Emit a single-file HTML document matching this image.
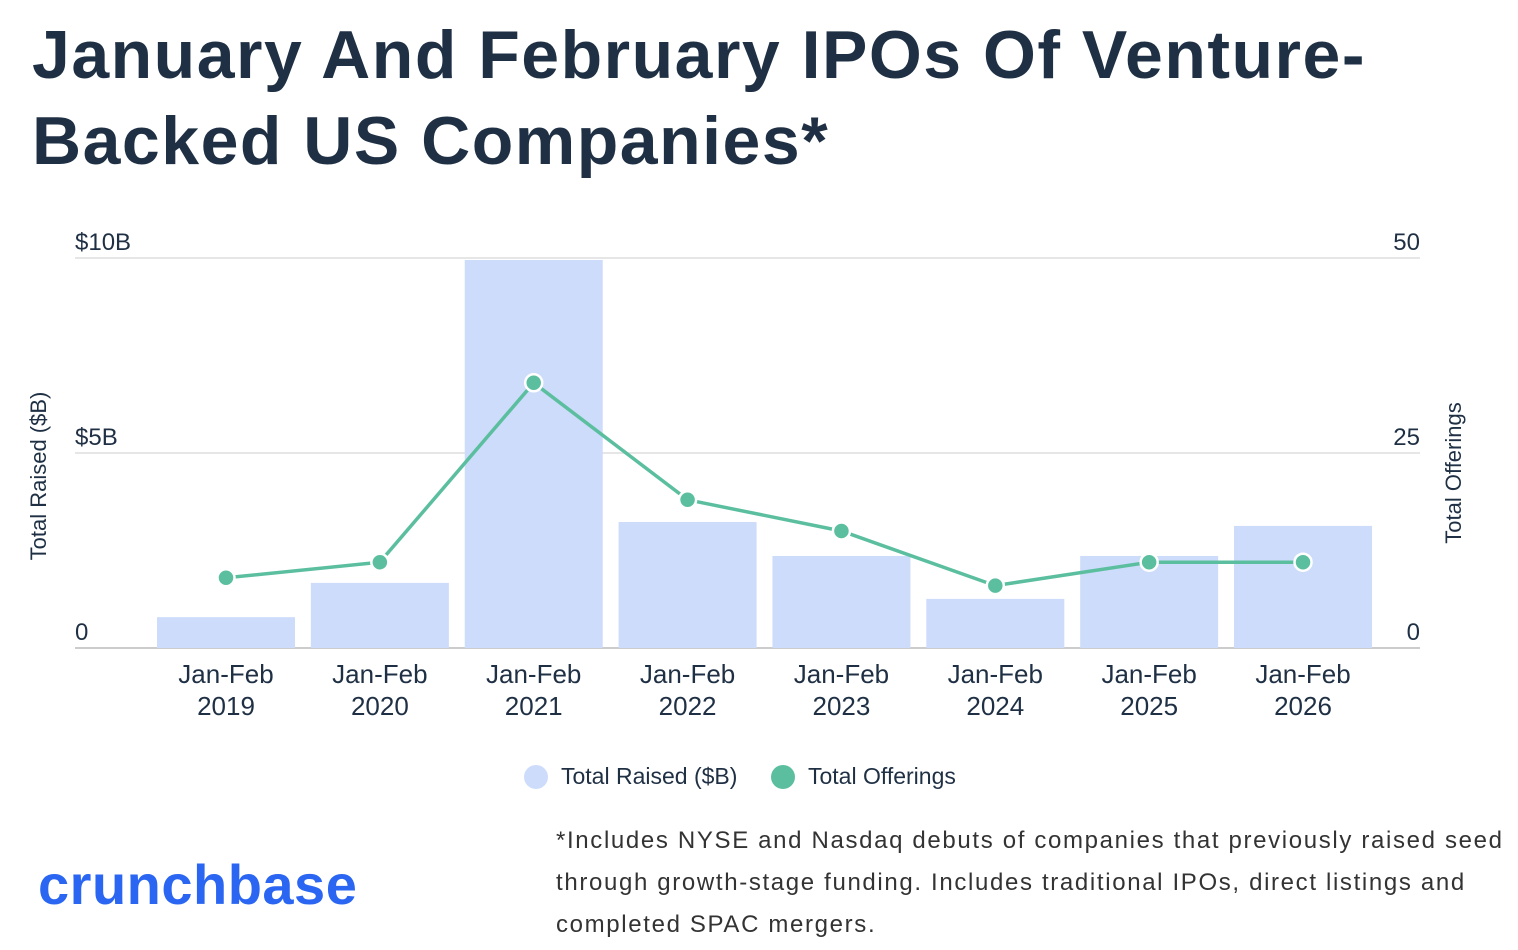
<!DOCTYPE html>
<html><head><meta charset="utf-8"><style>
body{margin:0;background:#fff;width:1518px;height:950px;overflow:hidden;font-family:"Liberation Sans",sans-serif;color:#1f3044}
h1{position:absolute;left:32px;top:12px;margin:0;font-size:68px;line-height:86px;font-weight:bold;letter-spacing:1.5px;color:#1f3044;white-space:nowrap}
.foot{position:absolute;left:556px;top:820px;font-size:24px;line-height:42px;color:#333;width:962px;letter-spacing:1.65px}
.logo{position:absolute;left:38px;top:852px;font-size:56px;font-weight:bold;color:#2a66f2;letter-spacing:0.5px}
</style></head><body>
<h1>January And February IPOs Of Venture-<br>Backed US Companies*</h1>
<svg id="c" width="1518" height="950" style="position:absolute;left:0;top:0"></svg>
<div class="logo">crunchbase</div>
<div class="foot">*Includes NYSE and Nasdaq debuts of companies that previously raised seed through growth-stage funding. Includes traditional IPOs, direct listings and completed SPAC mergers.</div>
<script>
const categories=["2019","2020","2021","2022","2023","2024","2025","2026"];
const raised=[0.79,1.67,9.95,3.23,2.36,1.26,2.36,3.13];
const offerings=[9,11,34,19,15,8,11,11];
const leftTicks=[0,5,10];
const leftLabels=["0","$5B","$10B"];
const rightTicks=[0,25,50];
const NS="http://www.w3.org/2000/svg";
const svg=document.getElementById('c');
const x0=75,x1=1420,yb=648,yt=258;
const yL=v=>yb-(yb-yt)*v/10;
const yR=v=>yb-(yb-yt)*v/50;
const xc=i=>226+i*153.86;
function mk(t,a,p){const e=document.createElementNS(NS,t);for(const k in a)e.setAttribute(k,a[k]);(p||svg).appendChild(e);return e;}
leftTicks.forEach((t,i)=>{
 const g=mk('line',{x1:x0,x2:x1,y1:yL(t),y2:yL(t),stroke:i==0?'#ccc':'#e6e6e6','stroke-width':2});
 
 
 const l=mk('text',{x:x0,y:yL(t)-8,'font-size':24,fill:'#1f3044'});l.textContent=leftLabels[i];
 
 
});
rightTicks.forEach(t=>{
 const l=mk('text',{x:x1,y:yR(t)-8,'font-size':24,fill:'#1f3044','text-anchor':'end'});l.textContent=t;
 
 
});
let a=mk('text',{transform:'translate(46,476) rotate(-90)','font-size':22,fill:'#1f3044','text-anchor':'middle'});a.textContent='Total Raised ($B)';

a=mk('text',{transform:'translate(1461,473) rotate(-90)','font-size':22,fill:'#1f3044','text-anchor':'middle'});a.textContent='Total Offerings';

raised.forEach((v,i)=>{
 const r=mk('rect',{x:xc(i)-69,y:yL(v),width:138,height:yb-yL(v),fill:'#cddcfa'});
 
 
 const t=mk('text',{x:xc(i),y:683,'font-size':26,fill:'#1f3044','text-anchor':'middle'});t.textContent='Jan-Feb';
 
 
 const t2=mk('text',{x:xc(i),y:715,'font-size':26,fill:'#1f3044','text-anchor':'middle'});t2.textContent=categories[i];
 
 
});
const pl=mk('polyline',{points:offerings.map((v,i)=>xc(i)+','+yR(v)).join(' '),fill:'none',stroke:'#5bbf9f','stroke-width':3.5});


offerings.forEach((v,i)=>{
 const c=mk('circle',{cx:xc(i),cy:yR(v),r:8.5,fill:'#5bbf9f',stroke:'#fff','stroke-width':2.5});
 
 
});
let c=mk('circle',{cx:536,cy:777,r:12,fill:'#cddcfa'});
let t=mk('text',{x:561,y:784,'font-size':23,fill:'#1f3044'});t.textContent='Total Raised ($B)';
c=mk('circle',{cx:783,cy:777,r:12,fill:'#5bbf9f'});
t=mk('text',{x:808,y:784,'font-size':23,fill:'#1f3044'});t.textContent='Total Offerings';
</script>
</body></html>
